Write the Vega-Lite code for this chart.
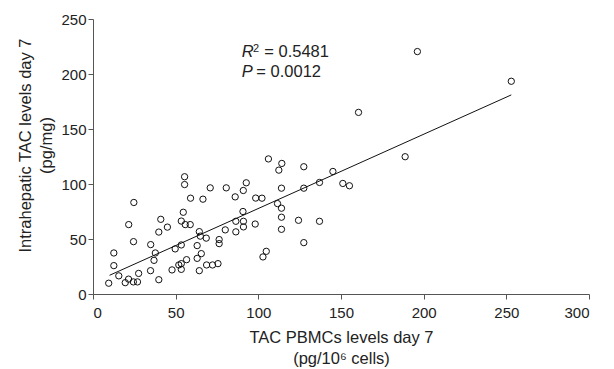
{
  "$schema": "https://vega.github.io/schema/vega-lite/v6.json",
  "width": 496,
  "height": 275,
  "autosize": {"type": "none"},
  "padding": {"left": 93, "top": 19, "right": 25, "bottom": 75},
  "background": "white",
  "config": {
    "view": {"stroke": null},
    "font": "Liberation Sans",
    "axis": {
      "grid": false,
      "domainColor": "#555",
      "tickColor": "#555",
      "labelColor": "#222",
      "titleColor": "#222",
      "labelFontSize": 15,
      "titleFontSize": 16.5,
      "titleFontWeight": "normal",
      "tickSize": 5,
      "labelFont": "Liberation Sans",
      "titleFont": "Liberation Sans"
    }
  },
  "datasets": {
    "pts": [
      {"x": 9.5, "y": 9.8}, {"x": 12.6, "y": 37.3}, {"x": 12.6, "y": 25.8}, {"x": 15.6, "y": 16.5},
      {"x": 19.5, "y": 10.3}, {"x": 21.5, "y": 13.5}, {"x": 24.4, "y": 11.0}, {"x": 26.9, "y": 11.0},
      {"x": 27.6, "y": 18.7}, {"x": 21.6, "y": 63.1}, {"x": 24.7, "y": 83.2}, {"x": 24.5, "y": 47.6},
      {"x": 34.9, "y": 44.9}, {"x": 34.8, "y": 21.2}, {"x": 37.7, "y": 37.3}, {"x": 36.9, "y": 30.6},
      {"x": 39.8, "y": 56.3}, {"x": 39.8, "y": 13.0}, {"x": 41.0, "y": 67.9}, {"x": 45.0, "y": 60.8},
      {"x": 47.8, "y": 21.9}, {"x": 49.7, "y": 41.0}, {"x": 51.9, "y": 26.4}, {"x": 53.4, "y": 66.3},
      {"x": 55.8, "y": 63.1}, {"x": 58.8, "y": 63.1}, {"x": 53.4, "y": 44.6}, {"x": 56.6, "y": 31.2},
      {"x": 53.4, "y": 27.6}, {"x": 53.4, "y": 22.4}, {"x": 54.6, "y": 74.3}, {"x": 55.4, "y": 106.6},
      {"x": 55.4, "y": 99.5}, {"x": 59.0, "y": 87.1}, {"x": 63.0, "y": 44.0}, {"x": 64.3, "y": 56.7},
      {"x": 64.9, "y": 52.6}, {"x": 68.5, "y": 50.8}, {"x": 65.5, "y": 36.7}, {"x": 63.0, "y": 32.4},
      {"x": 64.3, "y": 21.2}, {"x": 66.5, "y": 86.2}, {"x": 68.7, "y": 26.4}, {"x": 72.3, "y": 26.4},
      {"x": 75.6, "y": 27.6}, {"x": 70.9, "y": 96.5}, {"x": 76.3, "y": 49.5}, {"x": 76.3, "y": 45.8},
      {"x": 80.0, "y": 58.3}, {"x": 80.6, "y": 96.5}, {"x": 86.0, "y": 88.3}, {"x": 86.4, "y": 66.1},
      {"x": 86.4, "y": 56.5}, {"x": 90.7, "y": 75.0}, {"x": 90.9, "y": 94.1}, {"x": 91.0, "y": 66.1},
      {"x": 91.0, "y": 61.0}, {"x": 92.7, "y": 101.1}, {"x": 98.1, "y": 63.6}, {"x": 98.4, "y": 87.2},
      {"x": 102.2, "y": 87.1}, {"x": 106.1, "y": 122.8}, {"x": 114.2, "y": 118.7}, {"x": 112.4, "y": 112.6},
      {"x": 127.5, "y": 115.7}, {"x": 145.1, "y": 111.4}, {"x": 137.0, "y": 101.4}, {"x": 151.1, "y": 100.5},
      {"x": 155.1, "y": 98.4}, {"x": 127.5, "y": 96.2}, {"x": 114.0, "y": 96.2}, {"x": 111.6, "y": 82.2},
      {"x": 114.0, "y": 78.0}, {"x": 114.0, "y": 69.8}, {"x": 124.3, "y": 67.0}, {"x": 137.0, "y": 66.1},
      {"x": 114.0, "y": 58.8}, {"x": 127.5, "y": 46.7}, {"x": 104.8, "y": 38.8}, {"x": 102.8, "y": 33.7},
      {"x": 188.8, "y": 124.8}, {"x": 196.2, "y": 220.4}, {"x": 160.6, "y": 165.1}, {"x": 253.0, "y": 193.4}
    ],
    "fit": [
      {"x": 10, "y": 17},
      {"x": 253, "y": 181}
    ],
    "ital": [
      {"x": 90.0, "y": 220, "t": "R"},
      {"x": 90.0, "y": 201.5, "t": "P"}
    ],
    "sup": [
      {"x": 96.8, "y": 223, "t": "2"}
    ],
    "norm": [
      {"x": 103.6, "y": 220, "t": "= 0.5481"},
      {"x": 98.8, "y": 201.5, "t": "= 0.0012"}
    ]
  },
  "layer": [
    {
      "data": {"name": "pts"},
      "mark": {"type": "point", "shape": "circle", "filled": false, "stroke": "#111", "strokeWidth": 1, "size": 40, "opacity": 1},
      "encoding": {
        "x": {
          "field": "x", "type": "quantitative",
          "scale": {"domain": [0, 300], "nice": false},
          "axis": {"values": [0, 50, 100, 150, 200, 250, 300], "title": ["TAC PBMCs levels day 7", "(pg/10⁶ cells)"], "labelPadding": 6, "titlePadding": 9, "titleLineHeight": 21}
        },
        "y": {
          "field": "y", "type": "quantitative",
          "scale": {"domain": [0, 250], "nice": false},
          "axis": {"values": [0, 50, 100, 150, 200, 250], "title": ["Intrahepatic TAC levels day 7", "(pg/mg)"], "labelPadding": 2, "titlePadding": 6, "titleLineHeight": 21, "titleY": 126}
        }
      }
    },
    {
      "data": {"name": "fit"},
      "mark": {"type": "line", "color": "#111", "strokeWidth": 1},
      "encoding": {"x": {"field": "x", "type": "quantitative"}, "y": {"field": "y", "type": "quantitative"}}
    },
    {
      "data": {"name": "ital"},
      "mark": {"type": "text", "fontStyle": "italic", "fontSize": 16.5, "align": "left", "baseline": "middle", "color": "#222", "font": "Liberation Sans"},
      "encoding": {"x": {"field": "x", "type": "quantitative"}, "y": {"field": "y", "type": "quantitative"}, "text": {"field": "t"}}
    },
    {
      "data": {"name": "sup"},
      "mark": {"type": "text", "fontSize": 11, "align": "left", "baseline": "middle", "color": "#222", "font": "Liberation Sans"},
      "encoding": {"x": {"field": "x", "type": "quantitative"}, "y": {"field": "y", "type": "quantitative"}, "text": {"field": "t"}}
    },
    {
      "data": {"name": "norm"},
      "mark": {"type": "text", "fontSize": 16.5, "align": "left", "baseline": "middle", "color": "#222", "font": "Liberation Sans"},
      "encoding": {"x": {"field": "x", "type": "quantitative"}, "y": {"field": "y", "type": "quantitative"}, "text": {"field": "t"}}
    }
  ]
}
